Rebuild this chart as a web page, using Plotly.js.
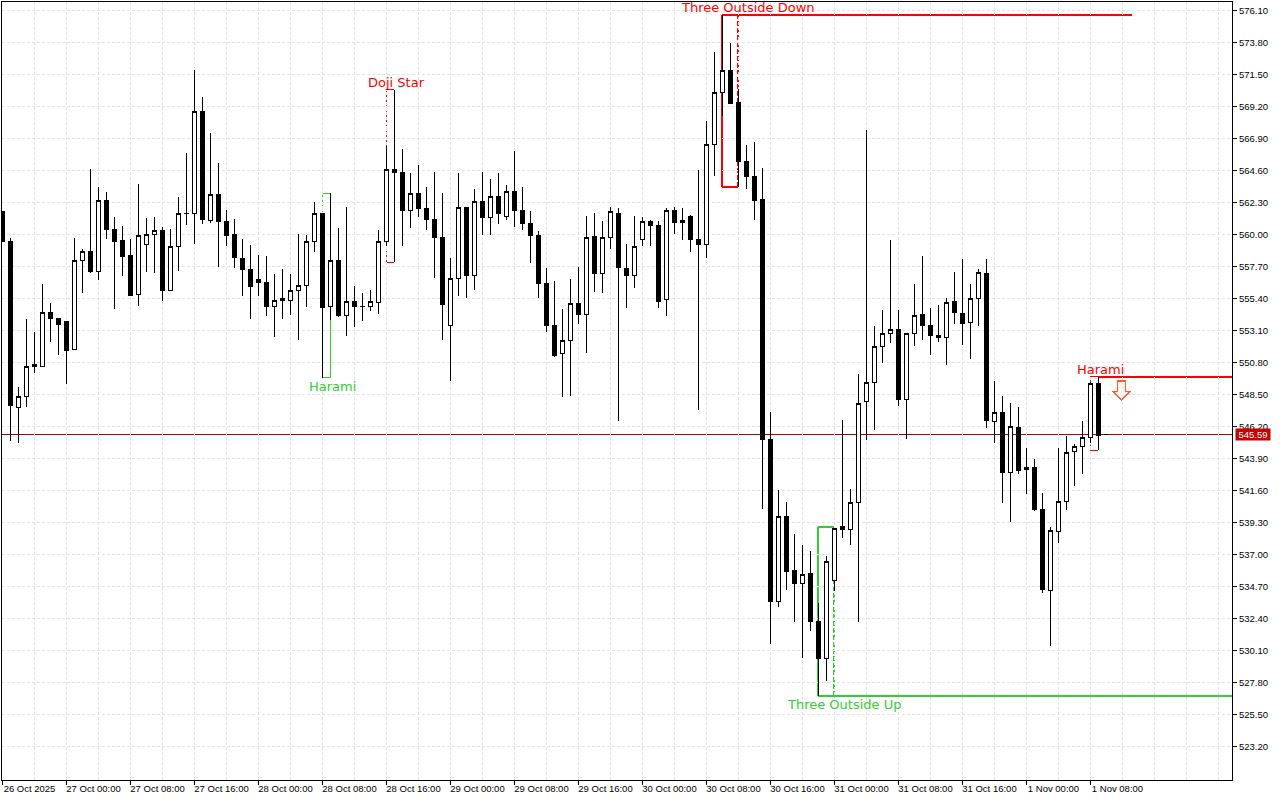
<!DOCTYPE html>
<html>
<head>
<meta charset="utf-8">
<script src="https://cdn.plot.ly/plotly-3.0.1.min.js"></script>
<style>
html,body{margin:0;padding:0;background:#fff;}
#chart{width:1280px;height:800px;}
#chart .boxlayer path, #chart .ohlclayer path, #chart .shapelayer path{shape-rendering:crispEdges;}
</style>
</head>
<body>
<div id="chart"></div>
<script>
const openPrices = [561.62,559.53,547.58,548.34,550.69,550.53,554.41,553.98,553.76,551.75,558.15,558.79,557.36,562.46,560.37,559.58,558.46,555.67,559.30,560.02,560.30,555.99,559.15,561.54,561.52,568.86,560.99,562.89,560.95,560.02,558.29,557.50,556.78,556.57,554.84,555.42,555.27,555.99,556.35,559.51,561.52,554.81,558.15,554.16,555.22,554.86,554.84,555.13,559.51,564.69,564.47,561.74,562.96,561.88,561.09,559.80,553.47,556.85,561.96,557.04,562.39,561.21,562.75,561.28,563.11,561.74,560.81,559.94,556.49,553.47,551.46,552.37,555.06,554.24,559.87,557.18,559.80,561.52,557.57,557.04,559.66,560.95,560.66,555.31,561.74,560.88,561.31,559.61,559.27,566.48,570.22,571.80,569.50,565.26,564.18,562.53,545.23,533.61,539.75,535.86,534.90,535.60,532.22,529.51,535.15,538.98,538.78,540.75,547.98,549.38,551.97,552.90,553.19,548.13,552.90,554.27,553.47,552.76,552.58,555.20,554.34,553.66,555.42,557.21,546.55,547.22,542.88,546.16,543.26,543.22,540.27,534.40,538.64,540.82,544.42,544.78,545.42,549.31,545.59];
const highPrices = [561.62,559.75,549.04,553.91,552.99,556.44,555.08,553.98,553.76,559.73,558.96,564.71,563.39,563.06,561.24,560.61,559.68,563.63,561.19,561.26,560.52,560.40,562.70,565.86,571.82,569.88,567.30,565.14,561.76,561.11,559.68,559.25,558.53,558.46,557.16,557.52,557.16,560.06,559.96,562.34,561.52,562.96,560.47,561.98,556.30,555.80,556.01,560.32,566.36,570.39,566.15,564.42,565.00,563.41,564.49,562.98,558.31,564.42,561.96,563.25,564.49,563.97,564.42,563.56,566.00,563.41,561.69,560.23,557.59,556.66,554.65,556.80,557.66,561.33,561.55,560.97,561.98,561.88,559.30,561.33,561.24,561.04,560.97,561.88,561.98,561.88,561.40,564.64,568.16,573.12,575.78,573.76,570.46,566.43,566.65,564.78,547.24,541.64,540.77,538.47,537.68,537.25,533.49,536.89,538.94,546.67,541.71,549.97,567.51,553.42,554.57,559.61,554.57,552.90,556.44,558.46,554.72,554.93,555.44,557.31,558.24,556.44,557.52,558.24,549.47,548.39,547.89,547.60,544.66,543.86,541.42,538.98,544.66,545.54,544.94,546.60,549.40,549.76,545.59];
const lowPrices = [559.48,545.18,545.04,547.62,550.07,550.53,552.27,551.36,549.28,551.75,555.82,557.26,556.75,559.70,554.67,557.04,555.56,554.88,557.33,557.26,555.24,555.99,557.40,560.71,559.34,560.78,560.85,557.69,559.20,557.61,555.60,553.95,555.60,554.16,552.65,553.95,554.21,552.44,554.81,558.76,549.69,553.86,554.09,552.73,553.35,553.81,554.52,554.29,559.17,558.00,559.20,560.49,561.28,560.35,556.90,552.44,549.49,555.60,555.46,556.03,559.99,559.99,560.78,561.06,560.56,560.35,557.97,555.46,553.01,551.22,548.34,548.41,553.59,551.50,555.89,555.82,558.98,546.62,554.74,556.18,559.20,559.20,554.74,554.16,560.04,559.63,558.76,547.41,558.33,564.23,568.54,569.38,563.41,563.29,561.06,540.29,530.55,533.25,534.45,532.17,529.58,531.52,526.83,527.91,534.38,538.21,537.70,532.17,545.25,545.97,550.79,552.22,547.70,545.32,552.01,552.44,551.36,552.30,550.64,553.59,552.08,551.07,553.45,546.11,545.04,540.72,539.34,542.81,541.37,540.13,534.23,530.45,537.83,540.18,541.95,542.81,545.01,544.49,545.59];
const closePrices = [559.48,547.70,548.37,550.53,550.50,554.41,553.95,553.52,551.65,558.15,558.79,557.33,562.46,560.35,559.48,558.40,555.65,559.94,560.02,560.30,555.96,559.15,561.52,561.50,568.86,561.06,562.89,560.92,559.91,558.33,557.47,556.25,556.54,554.81,555.27,555.24,555.99,556.35,559.51,561.52,554.74,558.15,554.16,555.20,554.81,554.82,555.20,559.51,564.69,564.44,561.71,562.96,561.86,561.06,559.77,554.95,556.85,561.96,557.04,562.39,561.21,562.75,561.50,563.11,561.71,560.78,559.91,556.46,553.45,551.29,552.37,555.06,554.24,559.80,557.18,559.80,561.67,557.61,557.04,559.15,560.95,560.63,555.17,561.74,560.85,561.02,559.63,559.27,566.48,570.22,571.80,569.45,565.23,564.16,562.43,545.25,533.61,539.75,535.81,534.90,535.58,532.17,529.51,536.51,538.88,538.78,540.75,547.87,549.38,551.97,552.90,553.19,548.13,552.90,554.19,553.45,552.73,552.58,555.13,554.38,553.59,555.42,557.28,546.62,547.22,542.88,546.21,543.07,543.10,540.20,534.45,538.74,540.82,544.35,544.78,545.42,549.31,545.57,545.59];

const timeLabels = ["26 Oct 2025","27 Oct 00:00","27 Oct 08:00","27 Oct 16:00","28 Oct 00:00","28 Oct 08:00","28 Oct 16:00","29 Oct 00:00","29 Oct 08:00","29 Oct 16:00","30 Oct 00:00","30 Oct 08:00","30 Oct 16:00","31 Oct 00:00","31 Oct 08:00","31 Oct 16:00","1 Nov 00:00","1 Nov 08:00"];
const timeLabelBars = [0,8,16,24,32,40,48,56,64,72,80,88,96,104,112,120,128,136];
const priceTicks = [576.1,573.8,571.5,569.2,566.9,564.6,562.3,560.0,557.7,555.4,553.1,550.8,548.5,546.2,543.9,541.6,539.3,537.0,534.7,532.4,530.1,527.8,525.5,523.2];

const lastPrice = 545.59;
const RED = "#ff0000", GREEN = "#32cd32";

// pattern boxes: first bar, last bar, high, low, name, label bar, label price, colour
const patternNames  = ["Harami","Doji Star","Three Outside Down","Three Outside Up","Harami"];
const patternFirst  = [40,48,90,102,136];
const patternLast   = [41,49,92,104,137];
const patternHigh   = [562.96,570.39,575.78,538.96,549.76];
const patternLow    = [549.69,558.00,563.41,526.83,544.49];
const patternLabelBar   = [41.2,49.2,93.2,105.2,137.2];
const patternLabelPrice = [549.11,570.96,576.35,526.22,550.33];
const patternColor  = [GREEN,RED,RED,GREEN,RED];
const patternWidth  = [1,1,2,2,1];
// which side of the box is dashed: 0 = left, 1 = right
const patternDashSide = [0,0,1,1,0];
// horizontal level drawn onward from a pattern: start bar, end bar, price, colour
const levelStart = [92,104,137];
const levelEnd   = [141.2,153.8,153.8];
const levelPrice = [575.78,526.83,549.76];
const levelColor = [RED,GREEN,RED];

const bars = openPrices.map((_, i) => i);

const shapes = [];
const seg = (x0,y0,x1,y1,color,width,dash) => shapes.push({type:"line",xref:"x",yref:"y",layer:"below",x0,y0,x1,y1,line:{color,width,dash:dash||"solid"}});
seg(-1,lastPrice,154,lastPrice,"#b00000",1);
patternNames.forEach((_,k)=>{
  const a=patternFirst[k], b=patternLast[k], h=patternHigh[k], l=patternLow[k], c=patternColor[k], w=patternWidth[k];
  seg(a,h,b,h,c,w); seg(a,l,b,l,c,w);
  seg(a,l,a,h,c,w,patternDashSide[k]===0?"3px,1px":"solid");
  seg(b,l,b,h,c,w,patternDashSide[k]===1?"5px,2px":"solid");
});
levelStart.forEach((s,k)=>seg(s,levelPrice[k],levelEnd[k],levelPrice[k],levelColor[k],2));
// sell arrow next to the last pattern
shapes.push({type:"path",xref:"x",yref:"y",xsizemode:"pixel",ysizemode:"pixel",xanchor:139.9,yanchor:548.1,
  path:"M0,0 L-8.5,8.5 L-4,8.5 L-4,19 L4,19 L4,8.5 L8.5,8.5 Z",fillcolor:"#fff4f0",line:{color:"#ff5a30",width:1.5},layer:"above"});

const annotations = patternNames.map((t,k)=>({
  text:t,x:patternLabelBar[k],y:patternLabelPrice[k],xref:"x",yref:"y",xanchor:"center",yanchor:"middle",
  showarrow:false,font:{family:"DejaVu Sans",size:13,color:patternColor[k]}
}));
annotations.push({text:lastPrice.toFixed(2),xref:"paper",yref:"y",x:1.0024,y:lastPrice,xanchor:"left",yanchor:"middle",
  showarrow:false,bgcolor:"#c80000",width:34,height:11,borderpad:0,align:"center",valign:"middle",
  font:{family:"Liberation Sans",size:9.5,color:"#ffffff"}});

const grid = {gridcolor:"#e4e4e4",griddash:"3px,2px",gridwidth:1};

Plotly.newPlot("chart",[{
  type:"candlestick",x:bars,open:openPrices,high:highPrices,low:lowPrices,close:closePrices,
  increasing:{line:{color:"#000000",width:1},fillcolor:"#ffffff"},
  decreasing:{line:{color:"#000000",width:1},fillcolor:"#000000"},
  whiskerwidth:0,hoverinfo:"skip",showlegend:false
}],{
  width:1280,height:800,paper_bgcolor:"#ffffff",plot_bgcolor:"#ffffff",
  margin:{l:2,r:48,t:2,b:20,pad:0},showlegend:false,boxgap:0.5,boxgroupgap:0,dragmode:false,
  font:{family:"Liberation Sans",size:9.5,color:"#000000"},
  xaxis:Object.assign({type:"linear",range:[-0.0625,153.69],rangeslider:{visible:false},
    tickmode:"array",tickvals:timeLabelBars,ticktext:timeLabels,ticks:"outside",ticklen:4,tickcolor:"#000",tickwidth:1,
    ticklabelshift:27,ticklabelstandoff:-4,tickangle:0,
    showline:true,linecolor:"#000",linewidth:1,mirror:true,zeroline:false,showgrid:true,
    minor:Object.assign({tick0:0,dtick:4,showgrid:true,ticklen:0},grid),
    tickfont:{family:"Liberation Sans",size:9.5,color:"#000"}},grid),
  yaxis:Object.assign({type:"linear",side:"right",range:[520.792,576.711],
    tickmode:"array",tickvals:priceTicks,ticktext:priceTicks.map(v=>v.toFixed(2)),
    ticks:"outside",ticklen:4,tickcolor:"#000",tickwidth:1,
    showline:true,linecolor:"#000",linewidth:1,mirror:true,zeroline:false,showgrid:true,
    tickfont:{family:"Liberation Sans",size:9.5,color:"#000"}},grid),
  shapes,annotations
},{displayModeBar:false,staticPlot:true});
</script>
</body>
</html>
